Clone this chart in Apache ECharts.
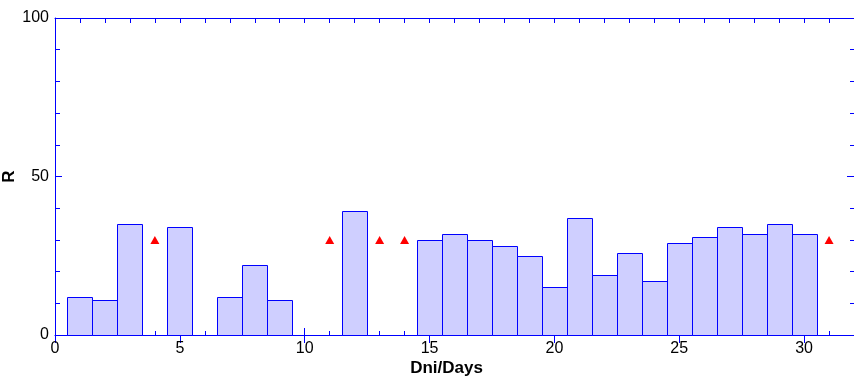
<!DOCTYPE html>
<html>
<head>
<meta charset="utf-8">
<script src="https://cdn.jsdelivr.net/npm/echarts@6/dist/echarts.min.js"></script>
<style>
html,body{margin:0;padding:0;background:#fff;}
#chart{width:854px;height:380px;}
</style>
</head>
<body>
<div id="chart"></div>
<script>
// Data
const barDays   = [1, 2, 3, 5, 7, 8, 9, 12, 15, 16, 17, 18, 19, 20, 21, 22, 23, 24, 25, 26, 27, 28, 29, 30];
const barValues = [12, 11, 35, 34, 12, 22, 11, 39, 30, 32, 30, 28, 25, 15, 37, 19, 26, 17, 29, 31, 34, 32, 35, 32];
const markerDays   = [4, 11, 13, 14, 31];
const markerValues = [30, 30, 30, 30, 30];
const xTickLabels = ['0', '5', '10', '15', '20', '25', '30'];
const yTickLabels = ['0', '50', '100'];

const BLUE = '#0000FF';
const FONT = 'Liberation Sans, Arial, sans-serif';

const chart = echarts.init(document.getElementById('chart'), null, {renderer: 'canvas'});

function xAxisDef(opts) {
  return Object.assign({
    type: 'value', min: 0, max: 32,
    axisLine: {show: false, lineStyle: {color: BLUE, width: 1}},
    axisTick: {show: true, inside: true, length: 4, lineStyle: {color: BLUE, width: 1}},
    axisLabel: {show: false},
    splitLine: {show: false},
    minorTick: {show: false},
    minorSplitLine: {show: false}
  }, opts);
}

const option = {
  animation: false,
  backgroundColor: '#ffffff',
  grid: {left: 55, right: 0, top: 18, bottom: 45, containLabel: false, outerBoundsMode: 'none'},
  xAxis: [
    xAxisDef({
      position: 'bottom', interval: 1,
      axisLine: {show: true, onZero: false, lineStyle: {color: BLUE, width: 1}},
      name: 'Dni/Days', nameLocation: 'middle', nameGap: 25,
      nameTextStyle: {fontFamily: FONT, fontSize: 17, fontWeight: 'bold', color: '#000', padding: [0, 16, 0, 0]}
    }),
    xAxisDef({
      position: 'bottom', interval: 5,
      axisTick: {show: true, inside: true, length: 7, lineStyle: {color: BLUE, width: 1}},
      axisLabel: {
        show: true, margin: 6, fontFamily: FONT, fontSize: 16, color: '#000',
        showMaxLabel: false,
        formatter: function (v) { return xTickLabels.indexOf(String(v)) >= 0 ? String(v) : ''; }
      }
    }),
    xAxisDef({
      position: 'top', interval: 1,
      axisLine: {show: true, onZero: false, lineStyle: {color: BLUE, width: 1}},
      axisTick: {show: true, inside: true, length: 5, lineStyle: {color: BLUE, width: 1}}
    }),
    xAxisDef({
      position: 'top', interval: 5,
      axisTick: {show: true, inside: true, length: 8, lineStyle: {color: BLUE, width: 1}}
    })
  ],
  yAxis: [
    {
      type: 'value', position: 'left', min: 0, max: 100, interval: 50,
      axisLine: {show: true, onZero: false, lineStyle: {color: BLUE, width: 1}},
      axisTick: {show: true, inside: true, length: 7, lineStyle: {color: BLUE, width: 1}},
      minorTick: {show: true, splitNumber: 5, length: 5, lineStyle: {color: BLUE, width: 1}},
      splitLine: {show: false},
      axisLabel: {
        show: true, margin: 6, fontFamily: FONT, fontSize: 16, color: '#000',
        formatter: function (v) { return yTickLabels.indexOf(String(v)) >= 0 ? String(v) : ''; }
      },
      name: 'R', nameLocation: 'middle', nameGap: 37, nameRotate: 90, nameMoveOverlap: false,
      nameTextStyle: {fontFamily: FONT, fontSize: 17, fontWeight: 'bold', color: '#000'}
    },
    {
      type: 'value', position: 'right', min: 0, max: 100, interval: 50,
      axisLine: {show: true, onZero: false, lineStyle: {color: BLUE, width: 1}},
      axisTick: {show: true, inside: true, length: 7, lineStyle: {color: BLUE, width: 1}},
      minorTick: {show: true, splitNumber: 5, length: 4, lineStyle: {color: BLUE, width: 1}},
      splitLine: {show: false},
      axisLabel: {show: false}
    }
  ],
  series: [
    {
      type: 'custom',
      xAxisIndex: 0, yAxisIndex: 0,
      z: 5,
      data: barDays.map(function (d, i) { return [d, barValues[i]]; }),
      renderItem: function (params, api) {
        const d = api.value(0);
        const v = api.value(1);
        const p0 = api.coord([d - 0.5, v]);
        const p1 = api.coord([d + 0.5, 0]);
        const x0 = Math.round(p0[0]) + 0.5;
        const x1 = Math.round(p1[0]) + 0.5;
        const y0 = Math.round(p0[1]) + 0.5;
        const y1 = Math.round(p1[1]) + 0.5;
        return {
          type: 'rect',
          shape: {x: x0, y: y0, width: x1 - x0, height: y1 - y0},
          style: {fill: '#CFCFFF', stroke: BLUE, lineWidth: 1}
        };
      }
    },
    {
      type: 'scatter',
      xAxisIndex: 0, yAxisIndex: 0,
      z: 6,
      symbol: 'triangle',
      symbolSize: [9, 8],
      itemStyle: {color: '#FF0000', opacity: 1},
      data: markerDays.map(function (d, i) { return [d, markerValues[i]]; })
    }
  ]
};

chart.setOption(option);
</script>
</body>
</html>
